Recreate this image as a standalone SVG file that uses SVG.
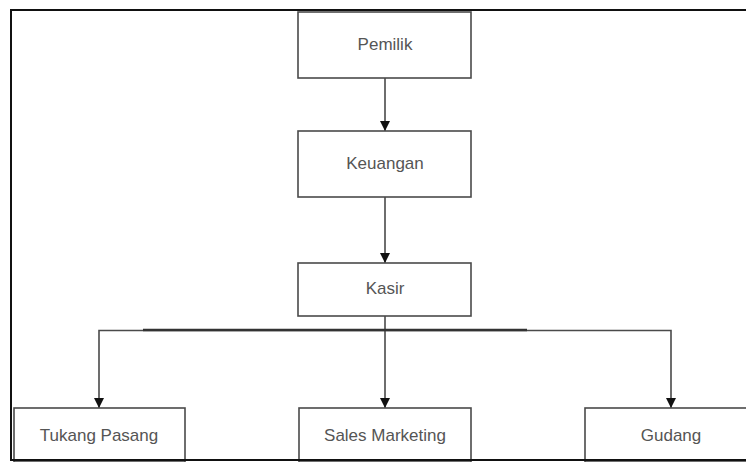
<svg xmlns="http://www.w3.org/2000/svg" width="746" height="462" viewBox="0 0 746 462">
  <style>
    .box { fill: #ffffff; stroke: #4a4a4a; stroke-width: 1.6; }
    .label { font-family: "Liberation Sans", Arial, sans-serif; font-size: 17px; fill: #555555; text-anchor: middle; }
    .link { fill: none; stroke: #4a4a4a; stroke-width: 1.6; }
  </style>
  <defs>
    <marker id="arrow" viewBox="0 0 10 10" refX="10" refY="5" markerWidth="10" markerHeight="10" markerUnits="userSpaceOnUse" orient="auto">
      <path d="M0,0 L10,5 L0,10 Z" fill="#111111"/>
    </marker>
  </defs>

  <!-- page background and frame -->
  <rect x="0" y="0" width="746" height="462" fill="#ffffff"/>
  <rect x="11" y="10" width="760" height="450" fill="none" stroke="#111111" stroke-width="2"/>

  <g id="connectors">
    <line class="link" x1="385" y1="78" x2="385" y2="131" marker-end="url(#arrow)"/>
    <line class="link" x1="385" y1="197" x2="385" y2="263" marker-end="url(#arrow)"/>
    <line class="link" x1="385" y1="316" x2="385" y2="408" marker-end="url(#arrow)"/>
    <!-- bus from Kasir to the left and right branches -->
    <polyline class="link" points="385,330.5 99,330.5 99,408" marker-end="url(#arrow)"/>
    <polyline class="link" points="385,330.5 671,330.5 671,408" marker-end="url(#arrow)"/>
    <line x1="143" y1="330" x2="527" y2="330" stroke="#333333" stroke-width="2.6"/>
  </g>

  <g id="pemilik">
    <rect class="box" x="298" y="12" width="173" height="66"/>
    <text class="label" x="385" y="50">Pemilik</text>
  </g>

  <g id="keuangan">
    <rect class="box" x="298" y="131" width="173" height="66"/>
    <text class="label" x="385" y="169">Keuangan</text>
  </g>

  <g id="kasir">
    <rect class="box" x="298" y="263" width="173" height="53"/>
    <text class="label" x="385" y="294">Kasir</text>
  </g>

  <g id="tukang-pasang">
    <rect class="box" x="14" y="408" width="171" height="54"/>
    <text class="label" x="99" y="441">Tukang Pasang</text>
  </g>

  <g id="sales-marketing">
    <rect class="box" x="299" y="408" width="172" height="54"/>
    <text class="label" x="385" y="441">Sales Marketing</text>
  </g>

  <g id="gudang">
    <rect class="box" x="585" y="408" width="172" height="54"/>
    <text class="label" x="671" y="441">Gudang</text>
  </g>

  <!-- frame bottom edge drawn over the lower boxes -->
  <line x1="10" y1="460" x2="746" y2="460" stroke="#111111" stroke-width="2"/>
</svg>
